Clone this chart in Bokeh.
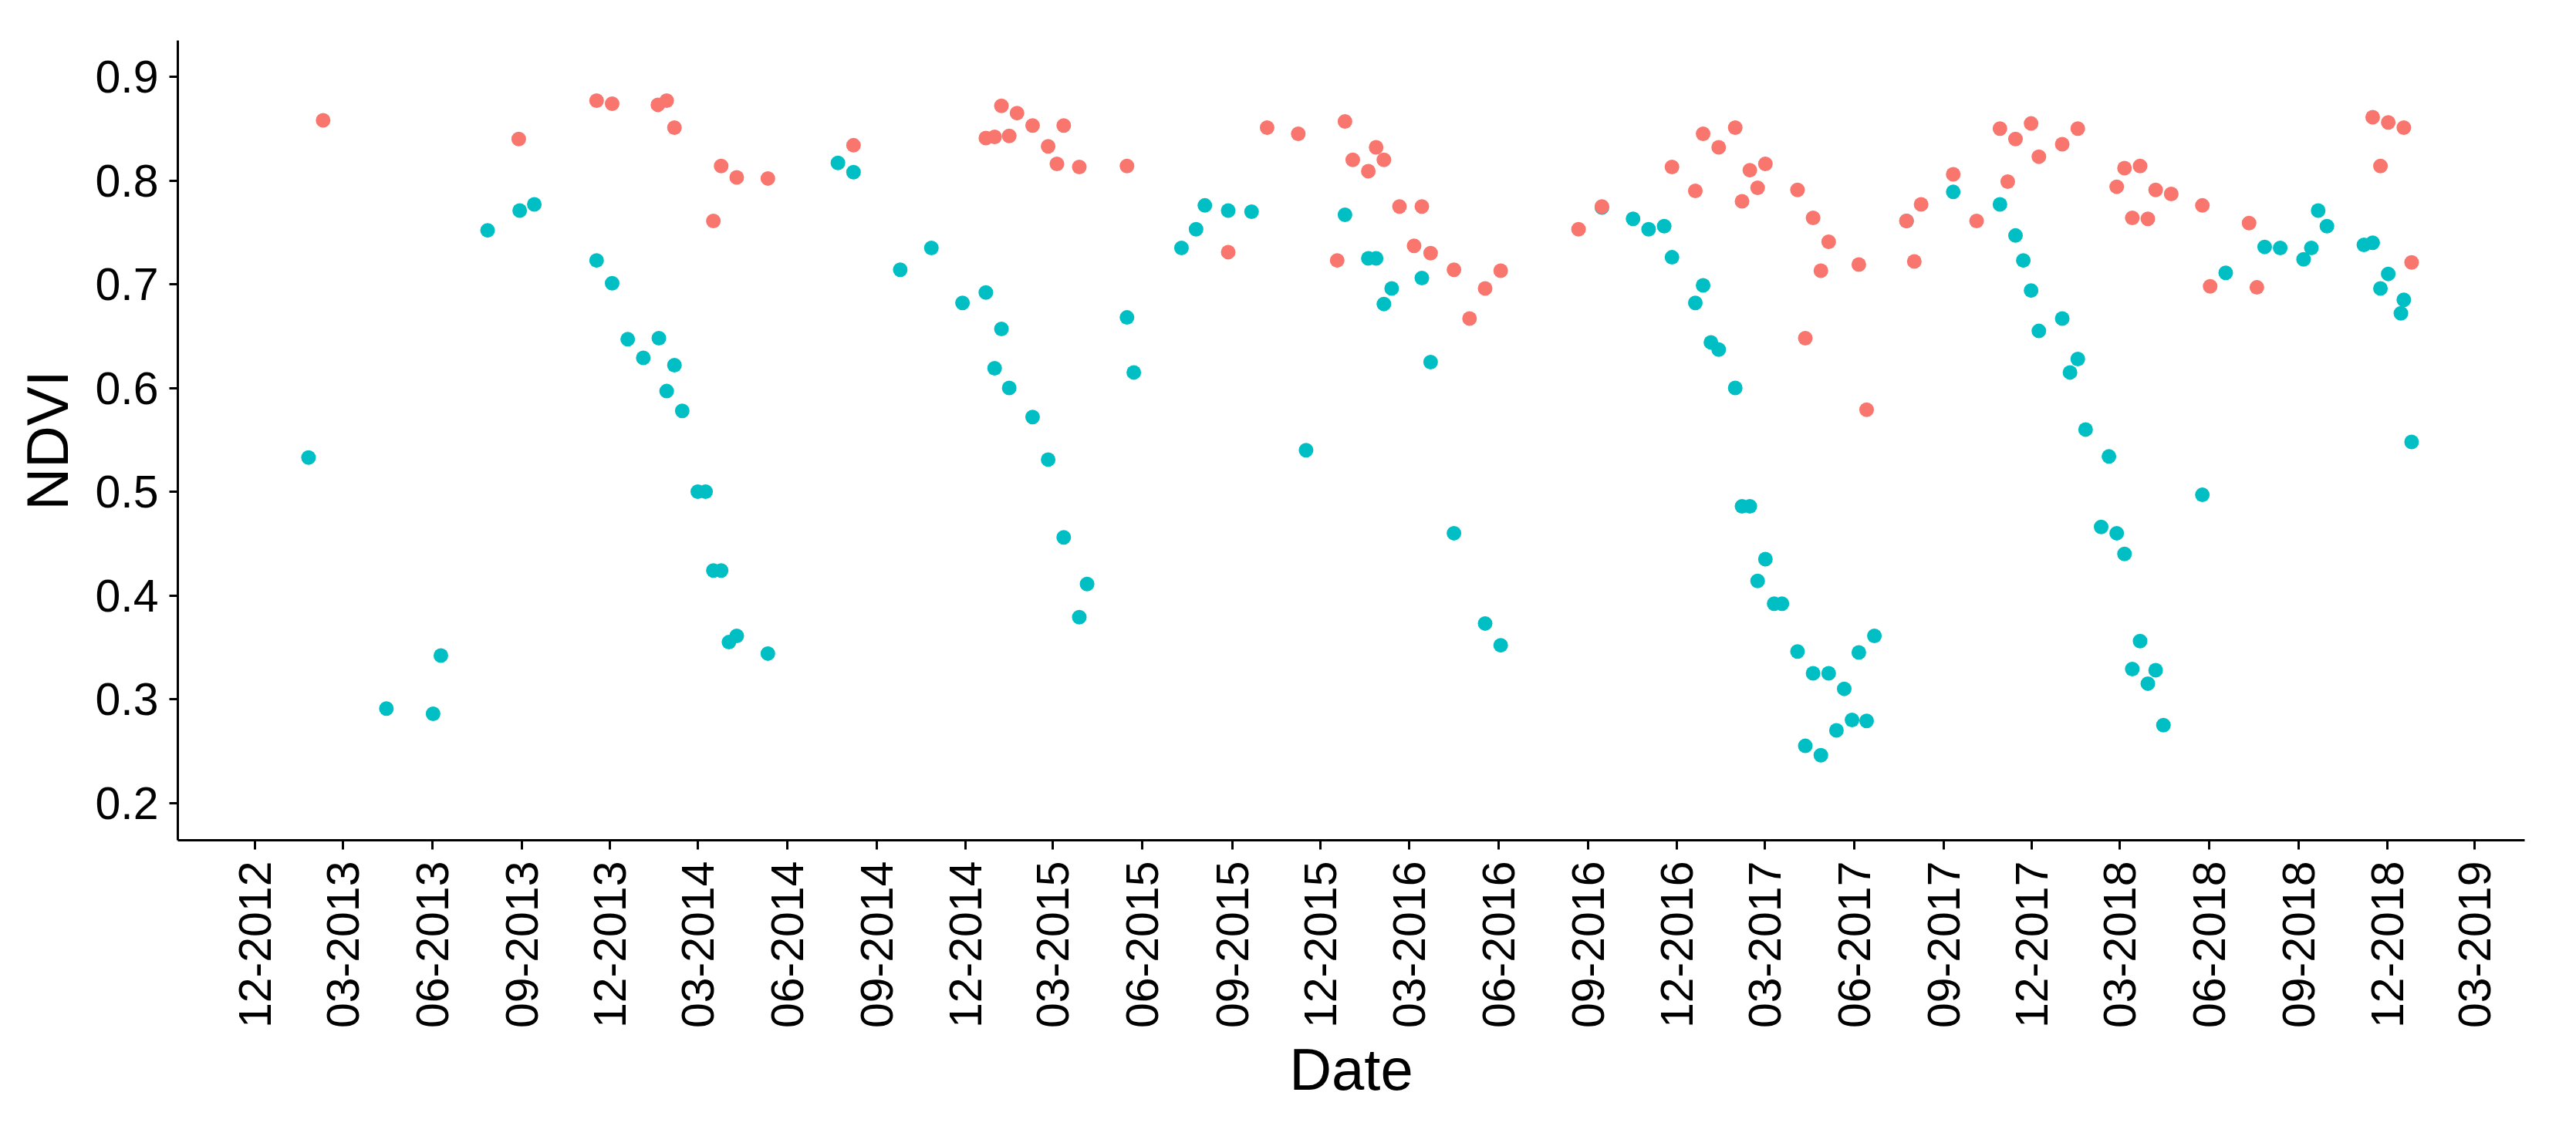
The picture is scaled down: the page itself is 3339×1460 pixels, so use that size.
import pandas as pd
from bokeh.plotting import figure
from bokeh.models import ColumnDataSource, FixedTicker, DatetimeTickFormatter, Range1d
from bokeh.embed import file_html
from bokeh.resources import INLINE
import math

# ---------------- data ----------------
tick_labels = ["12-2012", "03-2013", "06-2013", "09-2013", "12-2013", "03-2014", "06-2014",
               "09-2014", "12-2014", "03-2015", "06-2015", "09-2015", "12-2015", "03-2016",
               "06-2016", "09-2016", "12-2016", "03-2017", "06-2017", "09-2017", "12-2017",
               "03-2018", "06-2018", "09-2018", "12-2018", "03-2019"]
y_ticks = [0.2, 0.3, 0.4, 0.5, 0.6, 0.7, 0.8, 0.9]

cyan_dates = [
    "2013-01-25", "2013-04-15", "2013-06-02", "2013-06-10", "2013-07-28", "2013-08-30", "2013-09-14", "2013-11-17", "2013-12-03", "2013-12-19",
    "2014-01-04", "2014-01-20", "2014-01-28", "2014-02-05", "2014-02-13", "2014-03-01", "2014-03-09", "2014-03-17", "2014-03-25", "2014-04-02",
    "2014-04-10", "2014-05-12", "2014-07-23", "2014-08-08", "2014-09-25", "2014-10-27", "2014-11-28", "2014-12-22", "2014-12-31", "2015-01-07",
    "2015-01-15", "2015-02-08", "2015-02-24", "2015-03-12", "2015-03-28", "2015-04-05", "2015-05-16", "2015-05-23", "2015-07-11", "2015-07-26",
    "2015-08-04", "2015-08-28", "2015-09-21", "2015-11-16", "2015-12-26", "2016-01-19", "2016-01-27", "2016-02-04", "2016-02-12", "2016-03-14",
    "2016-03-23", "2016-04-16", "2016-05-18", "2016-06-03", "2016-09-15", "2016-10-17", "2016-11-02", "2016-11-18", "2016-11-26", "2016-12-20",
    "2016-12-28", "2017-01-05", "2017-01-13", "2017-01-30", "2017-02-06", "2017-02-14", "2017-02-22", "2017-03-02", "2017-03-11", "2017-03-19",
    "2017-04-04", "2017-04-12", "2017-04-20", "2017-04-28", "2017-05-06", "2017-05-14", "2017-05-22", "2017-05-30", "2017-06-06", "2017-06-14",
    "2017-06-22", "2017-07-25", "2017-09-11", "2017-10-29", "2017-11-14", "2017-11-22", "2017-11-30", "2017-12-08", "2018-01-01", "2018-01-09",
    "2018-01-17", "2018-01-25", "2018-02-10", "2018-02-18", "2018-02-26", "2018-03-06", "2018-03-14", "2018-03-22", "2018-03-30", "2018-04-07",
    "2018-04-15", "2018-05-25", "2018-06-18", "2018-07-28", "2018-08-13", "2018-09-06", "2018-09-14", "2018-09-21", "2018-09-30", "2018-11-07",
    "2018-11-16", "2018-11-24", "2018-12-02", "2018-12-15", "2018-12-18", "2018-12-26"]
cyan_ndvi = [
    0.533, 0.291, 0.286, 0.342, 0.752, 0.771, 0.777, 0.723, 0.701, 0.647,
    0.629, 0.648, 0.597, 0.622, 0.578, 0.500, 0.500, 0.424, 0.424, 0.355,
    0.361, 0.344, 0.817, 0.808, 0.714, 0.735, 0.682, 0.692, 0.619, 0.657,
    0.600, 0.572, 0.531, 0.456, 0.379, 0.411, 0.668, 0.615, 0.735, 0.753,
    0.776, 0.771, 0.770, 0.540, 0.767, 0.725, 0.725, 0.681, 0.696, 0.706,
    0.625, 0.460, 0.373, 0.352, 0.774, 0.763, 0.753, 0.756, 0.726, 0.682,
    0.699, 0.644, 0.637, 0.600, 0.486, 0.486, 0.414, 0.435, 0.392, 0.392,
    0.346, 0.255, 0.325, 0.246, 0.325, 0.270, 0.310, 0.280, 0.345, 0.279,
    0.361, 0.761, 0.789, 0.777, 0.747, 0.723, 0.694, 0.655, 0.667, 0.615,
    0.628, 0.560, 0.466, 0.534, 0.460, 0.440, 0.329, 0.356, 0.315, 0.328,
    0.275, 0.497, 0.711, 0.736, 0.735, 0.724, 0.735, 0.771, 0.756, 0.738,
    0.740, 0.696, 0.710, 0.672, 0.685, 0.548]

red_dates = [
    "2013-02-09", "2013-08-29", "2013-11-17", "2013-12-03", "2014-01-19", "2014-01-28", "2014-02-05", "2014-03-17", "2014-03-25", "2014-04-10",
    "2014-05-12", "2014-08-08", "2014-12-22", "2014-12-31", "2015-01-07", "2015-01-15", "2015-01-23", "2015-02-08", "2015-02-24", "2015-03-05",
    "2015-03-12", "2015-03-28", "2015-05-16", "2015-08-28", "2015-10-07", "2015-11-08", "2015-12-18", "2015-12-26", "2016-01-03", "2016-01-19",
    "2016-01-27", "2016-02-04", "2016-02-20", "2016-03-06", "2016-03-14", "2016-03-23", "2016-04-16", "2016-05-02", "2016-05-18", "2016-06-03",
    "2016-08-22", "2016-09-15", "2016-11-26", "2016-12-20", "2016-12-28", "2017-01-13", "2017-01-30", "2017-02-06", "2017-02-14", "2017-02-22",
    "2017-03-02", "2017-04-04", "2017-04-12", "2017-04-20", "2017-04-28", "2017-05-06", "2017-06-06", "2017-06-14", "2017-07-25", "2017-08-02",
    "2017-08-09", "2017-09-11", "2017-10-05", "2017-10-29", "2017-11-06", "2017-11-14", "2017-11-30", "2017-12-08", "2018-01-01", "2018-01-17",
    "2018-02-26", "2018-03-06", "2018-03-14", "2018-03-22", "2018-03-30", "2018-04-07", "2018-04-23", "2018-05-25", "2018-06-02", "2018-07-12",
    "2018-07-20", "2018-11-16", "2018-11-24", "2018-12-02", "2018-12-18", "2018-12-26"]
red_ndvi = [
    0.858, 0.840, 0.877, 0.874, 0.873, 0.877, 0.851, 0.761, 0.814, 0.803,
    0.802, 0.834, 0.841, 0.842, 0.872, 0.843, 0.865, 0.853, 0.833, 0.816,
    0.853, 0.813, 0.814, 0.731, 0.851, 0.845, 0.723, 0.857, 0.820, 0.809,
    0.832, 0.820, 0.775, 0.737, 0.775, 0.730, 0.714, 0.667, 0.696, 0.713,
    0.753, 0.775, 0.813, 0.790, 0.845, 0.832, 0.851, 0.780, 0.810, 0.793,
    0.816, 0.791, 0.648, 0.764, 0.713, 0.741, 0.719, 0.579, 0.761, 0.722,
    0.777, 0.806, 0.761, 0.850, 0.799, 0.840, 0.855, 0.823, 0.835, 0.850,
    0.794, 0.812, 0.764, 0.814, 0.763, 0.791, 0.787, 0.776, 0.698, 0.759,
    0.697, 0.861, 0.814, 0.856, 0.851, 0.721]

RED = "#F8766D"
CYAN = "#00BFC4"
FONT = "Liberation Sans"

# ---------------- figure ----------------
tick_dates = pd.to_datetime(tick_labels, format="%m-%Y")
epoch = pd.Timestamp("1970-01-01")
tick_ms = [float((d - epoch) // pd.Timedelta(milliseconds=1)) for d in tick_dates]

p = figure(width=3320, height=1440, x_axis_type="datetime",
           output_backend="svg", toolbar_location=None,
           x_range=Range1d(pd.Timestamp("2012-09-12 17:00").to_pydatetime(),
                           pd.Timestamp("2019-04-21 05:00").to_pydatetime()),
           y_range=Range1d(0.164, 0.935),
           min_border_left=230, min_border_right=48,
           min_border_top=52, min_border_bottom=351)

p.outline_line_color = None
p.xgrid.visible = False
p.ygrid.visible = False
p.background_fill_color = "white"
p.border_fill_color = "white"

cyan_src = ColumnDataSource(dict(date=pd.to_datetime(cyan_dates), ndvi=cyan_ndvi))
red_src = ColumnDataSource(dict(date=pd.to_datetime(red_dates), ndvi=red_ndvi))

p.scatter("date", "ndvi", source=cyan_src, size=19, fill_color=CYAN, line_color=None)
p.scatter("date", "ndvi", source=red_src, size=19, fill_color=RED, line_color=None)

fmt = "%m-%Y"
p.xaxis.ticker = FixedTicker(ticks=tick_ms)
p.xaxis.formatter = DatetimeTickFormatter(
    microseconds=fmt, milliseconds=fmt, seconds=fmt, minsec=fmt, minutes=fmt,
    hourmin=fmt, hours=fmt, days=fmt, months=fmt, years=fmt)
p.xaxis.major_label_orientation = math.pi / 2
p.yaxis.ticker = FixedTicker(ticks=y_ticks)

for ax in (p.xaxis[0], p.yaxis[0]):
    ax.axis_line_color = "black"
    ax.axis_line_width = 3
    ax.major_tick_line_color = "black"
    ax.major_tick_line_width = 3
    ax.major_tick_in = 0
    ax.minor_tick_line_color = None
    ax.major_label_text_font = FONT
    ax.major_label_text_font_size = "59px"
    ax.major_label_text_color = "black"
    ax.axis_label_text_font = FONT
    ax.axis_label_text_font_size = "76px"
    ax.axis_label_text_font_style = "normal"
    ax.axis_label_text_color = "black"

p.xaxis.major_tick_out = 12
p.yaxis.major_tick_out = 11
p.xaxis.major_label_standoff = 15
p.yaxis.major_label_standoff = 14
p.xaxis.axis_label = "Date"
p.yaxis.axis_label = "NDVI"
p.xaxis.axis_label_standoff = 8
p.yaxis.axis_label_standoff = 16

open("out.html", "w").write(file_html(p, INLINE))
